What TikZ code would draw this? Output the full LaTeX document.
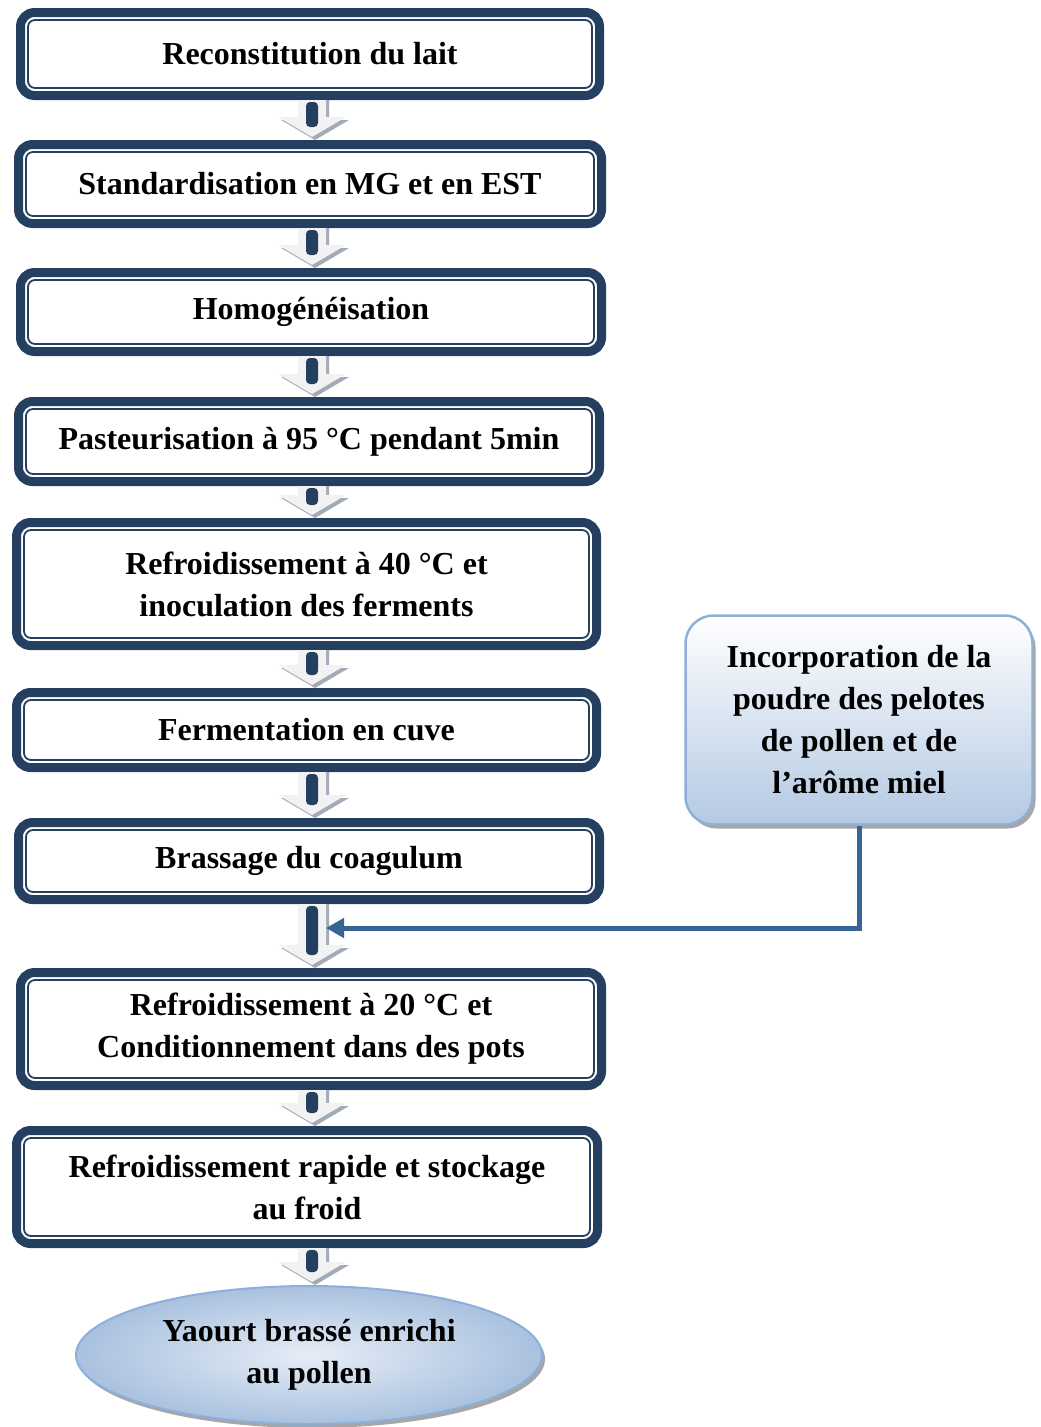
\documentclass[tikz,border=0pt]{standalone}
\usepackage{fontspec}
\setmainfont{Liberation Serif}
\usetikzlibrary{shapes.geometric,shadows,arrows.meta,calc}
\definecolor{navy}{HTML}{243F60}
\definecolor{connblue}{HTML}{386495}
\definecolor{sideedge}{HTML}{8DAFD9}
\definecolor{sidebot}{HTML}{B4C9E3}
\definecolor{arrlight}{HTML}{F2F2F2}
\definecolor{arrshade}{HTML}{A2ABB8}
\definecolor{ellout}{HTML}{A9C1DF}
\definecolor{ellin}{HTML}{E6EDF6}
\newcommand\txtfont{\fontsize{32}{42}\selectfont\bfseries}
\tikzset{
  stepbox/.style={draw=navy, line width=9pt, rounded corners=14pt, fill=white,
    inner sep=0pt, align=center, font=\txtfont,
    path picture={\draw[navy, line width=1.8pt, rounded corners=7pt]
      ([shift={(7.5pt,-7.5pt)}]path picture bounding box.north west) rectangle
      ([shift={(-7.5pt,7.5pt)}]path picture bounding box.south east);}},
  sidebox/.style={draw=sideedge, line width=2.5pt, rounded corners=28pt,
    top color=white, bottom color=sidebot, inner sep=0pt, align=center, font=\txtfont,
    drop shadow={shadow xshift=3pt, shadow yshift=-4pt, opacity=0.35, fill=black}},
  endell/.style={ellipse, draw=sideedge, line width=2pt, inner color=ellin, outer color=ellout,
    inner sep=0pt, align=center, font=\txtfont,
    drop shadow={shadow xshift=3pt, shadow yshift=-4pt, opacity=0.35, fill=black}},
  conn/.style={draw=connblue, line width=5pt, -{Triangle[length=18pt,width=19pt]}},
}
\newcommand\blockarr[2]{%
  \fill[arrshade] let \p1=(#1.south), \p2=(#2.north) in
    ({301pt},{\y1}) -- ({329pt},{\y1}) -- ({329pt},{\y2+20pt}) -- ({349pt},{\y2+20pt})
    -- ({315pt},{\y2}) -- ({281pt},{\y2+20pt}) -- ({301pt},{\y2+20pt}) -- cycle;
  \fill[arrlight] let \p1=(#1.south), \p2=(#2.north) in
    ({298pt},{\y1}) -- ({326pt},{\y1}) -- ({326pt},{\y2+23pt}) -- ({346pt},{\y2+23pt})
    -- ({312pt},{\y2+3pt}) -- ({278pt},{\y2+23pt}) -- ({298pt},{\y2+23pt}) -- cycle;
  \fill[navy, rounded corners=4pt] let \p1=(#1.south), \p2=(#2.north) in
    ({306pt},{\y1-2pt}) rectangle ({318pt},{\y2+13pt});
}
\begin{document}
\begin{tikzpicture}[x=1pt,y=1pt]
\useasboundingbox (0,0) rectangle (1041,-1427);
\node[stepbox, minimum width=579pt, minimum height=83pt] (n1) at (310,-54) {Reconstitution du lait};
\node[stepbox, minimum width=583pt, minimum height=79pt] (n2) at (310,-184) {Standardisation en MG et en EST};
\node[stepbox, minimum width=581pt, minimum height=79pt] (n3) at (311,-312) {Homogénéisation};
\node[stepbox, minimum width=581pt, minimum height=80pt] (n4) at (309,-441.5) {Pasteurisation à 95 °C pendant 5min};
\node[stepbox, minimum width=580pt, minimum height=123pt] (n5) at (306.5,-584) {Refroidissement à 40 °C et\\inoculation des ferments};
\node[stepbox, minimum width=580pt, minimum height=75pt] (n6) at (306.5,-730) {Fermentation en cuve};
\node[stepbox, minimum width=581pt, minimum height=77pt] (n7) at (309,-861) {Brassage du coagulum};
\node[stepbox, minimum width=581pt, minimum height=113pt] (n8) at (311,-1029) {Refroidissement à 20 °C et\\Conditionnement dans des pots};
\node[stepbox, minimum width=581pt, minimum height=113pt] (n9) at (307,-1187) {Refroidissement rapide et stockage\\au froid};
\node[endell, minimum width=466pt, minimum height=138pt] (yaourt) at (309,-1355) {Yaourt brassé enrichi\\au pollen};
\node[sidebox, minimum width=347pt, minimum height=209pt] (side) at (859,-720) {Incorporation de la\\poudre des pelotes\\de pollen et de\\l’arôme miel};
\blockarr{n1}{n2}
\blockarr{n2}{n3}
\blockarr{n3}{n4}
\blockarr{n4}{n5}
\blockarr{n5}{n6}
\blockarr{n6}{n7}
\blockarr{n7}{n8}
\blockarr{n8}{n9}
\blockarr{n9}{yaourt}
\coordinate (join) at (326,-928);
\draw[conn] (side.south) |- (join);
\end{tikzpicture}
\end{document}
